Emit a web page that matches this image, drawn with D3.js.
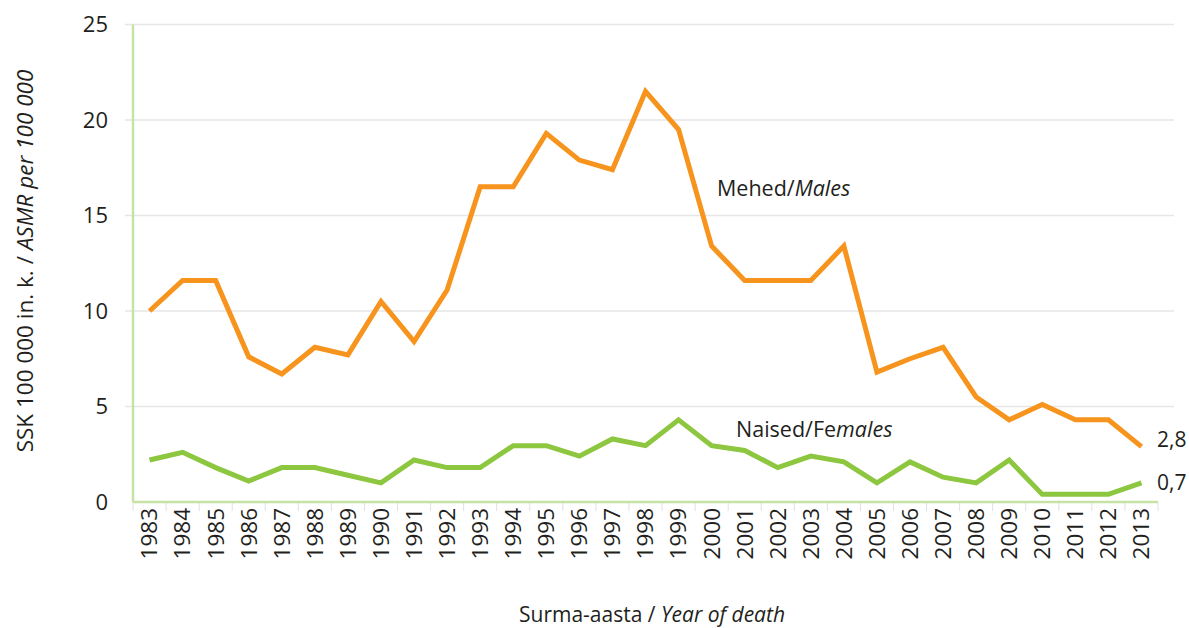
<!DOCTYPE html>
<html lang="et">
<head>
<meta charset="UTF-8">
<title>SSK / ASMR</title>
<style>
html, body { margin: 0; padding: 0; background: #fff; }
body { font-family: 'Open Sans', sans-serif; }
svg text { fill: #231f20; }
.grid line { stroke: #e6e6e6; stroke-width: 1.5; }
.axis-line { stroke: #c6e2a4; stroke-width: 2.5; }
.xtick { stroke: #e0e0e0; stroke-width: 1; }
.series { fill: none; stroke-width: 5; stroke-linejoin: miter; }
</style>
</head>
<body>
<svg width="1189" height="628"></svg>
<script src="https://cdnjs.cloudflare.com/ajax/libs/d3/7.8.5/d3.min.js"></script>
<script>
// values
const years = ['1983','1984','1985','1986','1987','1988','1989','1990','1991','1992',
  '1993','1994','1995','1996','1997','1998','1999','2000','2001','2002','2003','2004',
  '2005','2006','2007','2008','2009','2010','2011','2012','2013'];
const males = [10.0, 11.6, 11.6, 7.6, 6.7, 8.1, 7.7, 10.5, 8.4, 11.1,
  16.5, 16.5, 19.3, 17.9, 17.4, 21.5, 19.5, 13.4, 11.6, 11.6, 11.6, 13.4,
  6.8, 7.5, 8.1, 5.5, 4.3, 5.1, 4.3, 4.3, 2.9];
const females = [2.2, 2.6, 1.8, 1.1, 1.8, 1.8, 1.4, 1.0, 2.2, 1.8,
  1.8, 2.95, 2.95, 2.4, 3.3, 2.95, 4.3, 2.95, 2.7, 1.8, 2.4, 2.1,
  1.0, 2.1, 1.3, 1.0, 2.2, 0.4, 0.4, 0.4, 1.0];
const yTicks = [0, 5, 10, 15, 20, 25];
const endLabels = ['2,8', '0,7'];

const svg = d3.select('svg');

const plotLeft = 133, plotRight = 1158, plotTop = 24.5, plotBottom = 502;

const x = d3.scaleBand().domain(years).range([plotLeft, plotRight]).paddingInner(0).paddingOuter(0);
const y = d3.scaleLinear().domain([0, 25]).range([plotBottom, plotTop]);

// gridlines
svg.append('g').
attr('class', 'grid').
selectAll('line').
data(yTicks.filter(d => d > 0)).
enter().
append('line').
attr('x1', plotLeft - 8).
attr('x2', 1174).
attr('y1', d => y(d)).
attr('y2', d => y(d));

// y tick labels
svg.append('g').
selectAll('text').
data(yTicks).
enter().
append('text').
attr('x', 108).
attr('y', d => y(d)).
attr('dy', '0.35em').
attr('text-anchor', 'end').
attr('font-size', 22).
text(d => d);

// x tick marks at band edges
const edges = years.map(d => x(d)).concat([plotRight]);
svg.append('g').
selectAll('line').
data(edges).
enter().
append('line').
attr('class', 'xtick').
attr('x1', d => d).
attr('x2', d => d).
attr('y1', plotBottom).
attr('y2', plotBottom + 9);

// axis lines
svg.append('line').attr('class', 'axis-line').
attr('x1', plotLeft).attr('x2', plotLeft).attr('y1', plotTop).attr('y2', plotBottom);
svg.append('line').attr('class', 'axis-line').
attr('x1', plotLeft).attr('x2', plotRight).attr('y1', plotBottom).attr('y2', plotBottom);

// year labels, rotated
svg.append('g').
selectAll('text').
data(years).
enter().
append('text').
attr('transform', d => 'translate(' + (x(d) + x.bandwidth() / 2) + ',' + (plotBottom + 6) + ') rotate(-90)').
attr('dy', '0.35em').
attr('text-anchor', 'end').
attr('font-size', 22.5).
text(d => d);

const cx = d => x(d) + x.bandwidth() / 2;
const line = d3.line().x((d, i) => cx(years[i])).y(d => y(d));

svg.append('path').datum(males).attr('class', 'series').attr('stroke', '#f7941d').attr('d', line);
svg.append('path').datum(females).attr('class', 'series').attr('stroke', '#8dc63f').attr('d', line);

// series labels
const mLab = svg.append('text').attr('x', 717).attr('y', 196).attr('font-size', 21.5);
mLab.append('tspan').text('Mehed/');
mLab.append('tspan').attr('font-style', 'italic').text('Males');

const fLab = svg.append('text').attr('x', 736).attr('y', 437).attr('font-size', 21.5);
fLab.append('tspan').text('Naised/Fe');
fLab.append('tspan').attr('font-style', 'italic').text('males');

// end values
svg.append('text').attr('x', 1157).attr('y', 447).attr('font-size', 21).text(endLabels[0]);
svg.append('text').attr('x', 1157).attr('y', 490).attr('font-size', 21).text(endLabels[1]);

// axis titles
const yt = svg.append('text').
attr('transform', 'translate(33,' + 261 + ') rotate(-90)').
attr('text-anchor', 'middle').
attr('font-size', 22.5);
yt.append('tspan').text('SSK 100 000 in. k. / ');
yt.append('tspan').attr('font-style', 'italic').text('ASMR per 100 000');

const xt = svg.append('text').
attr('x', 652).
attr('y', 622).
attr('text-anchor', 'middle').
attr('font-size', 21);
xt.append('tspan').text('Surma-aasta / ');
xt.append('tspan').attr('font-style', 'italic').text('Year of death');
</script>
</body>
</html>
